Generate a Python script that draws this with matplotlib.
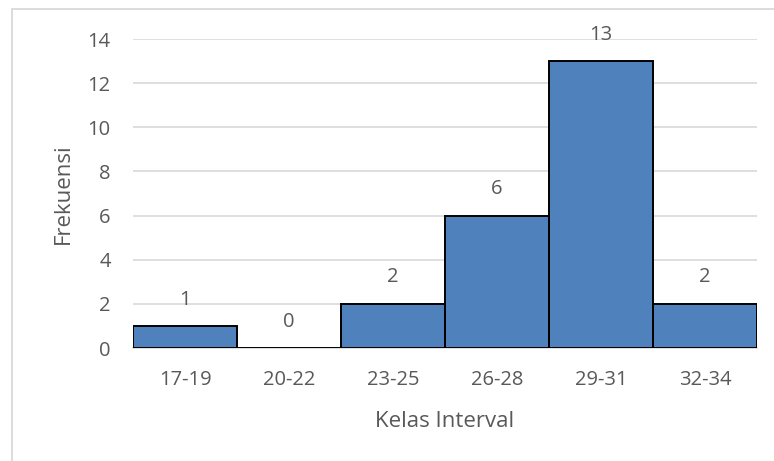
import matplotlib
matplotlib.use("Agg")
import matplotlib.pyplot as plt
from matplotlib.patches import Rectangle

categories = ["17-19", "20-22", "23-25", "26-28", "29-31", "32-34"]
frequencies = [1, 0, 2, 6, 13, 2]
y_ticks = [0, 2, 4, 6, 8, 10, 12, 14]

W, H = 774, 461
plt.rcParams["font.family"] = ["Open Sans", "DejaVu Sans"]
text_color = "#595959"

fig = plt.figure(figsize=(W / 100, H / 100), dpi=100)

# outer chart frame (right/bottom edges fall outside the canvas)
fig.patches.append(Rectangle((12 / W, -0.1), 1.2, 1 - 9 / H + 0.1,
                             transform=fig.transFigure, fill=False,
                             edgecolor="#D9D9D9", linewidth=1.3))

left, right, bottom, top = 133, 757, 348, 39
ax = fig.add_axes([left / W, 1 - bottom / H, (right - left) / W, (bottom - top) / H])

x = range(len(categories))
ax.bar(x, frequencies, width=1.0, color="#4F81BD", edgecolor="black",
       linewidth=1.4, zorder=3)

for xi, v in zip(x, frequencies):
    ax.annotate(str(v), (xi, v), xytext=(0, 19), textcoords="offset points",
                ha="center", va="center", fontsize=14.5, color=text_color)

ax.set_xlim(-0.5, len(categories) - 0.5)
ax.set_ylim(0, 14)
ax.set_yticks(y_ticks)
ax.set_xticks(list(x))
ax.set_xticklabels(categories)
ax.yaxis.grid(True, color="#D9D9D9", linewidth=1.2, zorder=0)
ax.set_axisbelow(True)
for s in ["left", "right", "top"]:
    ax.spines[s].set_visible(False)
ax.spines["bottom"].set_color("#D9D9D9")
ax.spines["bottom"].set_linewidth(1.2)
ax.tick_params(axis="both", length=0, labelsize=14.5, labelcolor=text_color)
ax.tick_params(axis="y", pad=16)
ax.tick_params(axis="x", pad=16)

ax.set_xlabel("Kelas Interval", fontsize=16, color=text_color, labelpad=15)
ax.set_ylabel("Frekuensi", fontsize=16, color=text_color, labelpad=10)

fig.savefig("out.png", dpi=100)
